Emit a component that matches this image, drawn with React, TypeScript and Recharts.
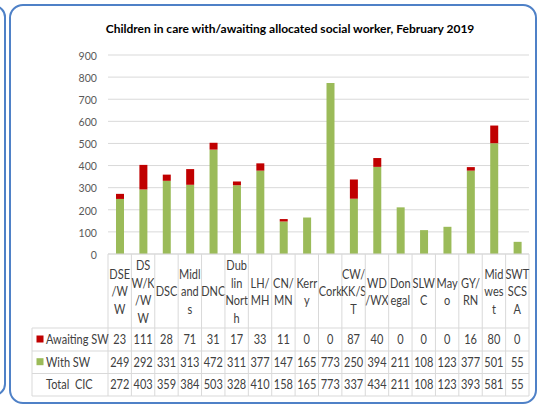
import { BarChart, Bar, XAxis, YAxis, CartesianGrid } from "recharts";

const categories = [
  "DSE/WW", "DSW/K/WW", "DSC", "Midlands", "DNC", "Dublin North", "LH/MH", "CN/MN", "Kerry",
  "Cork", "CW/KK/ST", "WD/WX", "Donegal", "SLWC", "Mayo", "GY/RN", "Midwest", "SWT SCSA",
];

// wrapped the way the table header shows them
const headerLines = [
  ["DSE", "/W", "W"],
  ["DS", "W/K", "/W", "W"],
  ["DSC"],
  ["Midl", "and", "s"],
  ["DNC"],
  ["Dub", "lin", "Nort", "h"],
  ["LH/", "MH"],
  ["CN/", "MN"],
  ["Kerr", "y"],
  ["Cork"],
  ["CW/", "KK/S", "T"],
  ["WD", "/WX"],
  ["Don", "egal"],
  ["SLW", "C"],
  ["May", "o"],
  ["GY/", "RN"],
  ["Mid", "wes", "t"],
  ["SWT", "SCS", "A"],
];

const awaitingSW = [23, 111, 28, 71, 31, 17, 33, 11, 0, 0, 87, 40, 0, 0, 0, 16, 80, 0];
const withSW = [249, 292, 331, 313, 472, 311, 377, 147, 165, 773, 250, 394, 211, 108, 123, 377, 501, 55];
const totalCIC = [272, 403, 359, 384, 503, 328, 410, 158, 165, 773, 337, 434, 211, 108, 123, 393, 581, 55];

const yTicks = [0, 100, 200, 300, 400, 500, 600, 700, 800, 900];

const data = categories.map((name, i) => ({
  name,
  awaiting: awaitingSW[i],
  withSw: withSW[i],
}));

const GREEN = "#9bbb59";
const RED = "#c00000";
const GRID = "#d9d9d9";
const TXT = "#404040";
const BLUE = "#4f81c7";
const FS = 12.5;
const SX = 0.88; // squeeze Lato toward Calibri's width

// row bottoms, measured from the axis line
const rowEdges = [74, 97, 119.5, 142];

function Txt({ x, y, anchor = "middle", size = FS, fill = TXT, children }: any) {
  return (
    <text
      transform={`translate(${x},${y}) scale(${SX},1)`}
      textAnchor={anchor}
      dominantBaseline="central"
      fontSize={size}
      fill={fill}
      style={{ whiteSpace: "pre" }}
    >
      {children}
    </text>
  );
}

function YTick(props: any) {
  const { x, y, payload } = props;
  return (
    <Txt x={x} y={y} anchor="end" size={12} fill="#595959">
      {payload.value}
    </Txt>
  );
}

function TableTick(props: any) {
  const { x, y, index, width } = props;
  const band = width / categories.length;
  const left = x - band / 2;
  const right = x + band / 2;
  const lines = headerLines[index];
  const lh = 17.5;
  const hc = y + 37.5;
  const rowMid = [85.5, 108.2, 130.7];
  const vals = [awaitingSW[index], withSW[index], totalCIC[index]];
  const legendLeft = left - 76;

  return (
    <g>
      <line x1={left} y1={y} x2={left} y2={y + 142} stroke={GRID} />
      {index === categories.length - 1 && (
        <line x1={right} y1={y} x2={right} y2={y + 142} stroke={GRID} />
      )}
      {rowEdges.map((r) => (
        <line key={r} x1={left} y1={y + r} x2={right} y2={y + r} stroke={GRID} />
      ))}
      {lines.map((t, i) => (
        <Txt key={i} x={x} y={hc + (i - (lines.length - 1) / 2) * lh}>
          {t}
        </Txt>
      ))}
      {vals.map((v, i) => (
        <Txt key={i} x={x} y={y + rowMid[i]}>
          {v}
        </Txt>
      ))}
      {index === 0 && (
        <g>
          <line x1={legendLeft} y1={y + 74} x2={legendLeft} y2={y + 142} stroke={GRID} />
          {rowEdges.map((r) => (
            <line key={r} x1={legendLeft} y1={y + r} x2={left} y2={y + r} stroke={GRID} />
          ))}
          <rect x={legendLeft + 4.5} y={y + rowMid[0] - 4} width={7} height={7} fill={RED} />
          <rect x={legendLeft + 4.5} y={y + rowMid[1] - 4} width={7} height={7} fill={GREEN} />
          <Txt x={legendLeft + 14} y={y + rowMid[0]} anchor="start">
            Awaiting SW
          </Txt>
          <Txt x={legendLeft + 14} y={y + rowMid[1]} anchor="start">
            With SW
          </Txt>
          <Txt x={legendLeft + 14} y={y + rowMid[2]} anchor="start">
            {"Total  CIC"}
          </Txt>
        </g>
      )}
    </g>
  );
}

export default function App() {
  return (
    <div
      style={{
        position: "absolute",
        left: 0,
        top: 0,
        width: 539,
        height: 410,
        background: "#fff",
        overflow: "hidden",
        fontFamily: "Lato, 'Liberation Sans', sans-serif",
      }}
    >
      {/* edge of the neighbouring panel */}
      <div
        style={{
          position: "absolute",
          left: -120,
          top: 5,
          width: 122,
          height: 387,
          border: `2px solid ${BLUE}`,
          borderRadius: 12,
        }}
      />
      {/* main panel */}
      <div
        style={{
          position: "absolute",
          left: 9,
          top: 4,
          width: 524,
          height: 396,
          border: `2px solid ${BLUE}`,
          borderRadius: 14,
        }}
      />
      <div
        style={{
          position: "absolute",
          left: 40,
          width: 500,
          top: 21,
          textAlign: "center",
          fontWeight: "bold",
          fontSize: 12,
          color: "#000",
        }}
      >
        Children in care with/awaiting allocated social worker, February 2019
      </div>
      <div style={{ position: "absolute", left: 0, top: 0 }}>
        <BarChart
          width={539}
          height={410}
          data={data}
          margin={{ top: 55, right: 10, bottom: 14, left: 48 }}
          barSize={8}
        >
          <CartesianGrid vertical={false} stroke={GRID} />
          <YAxis
            width={60}
            domain={[0, 900]}
            ticks={yTicks}
            interval={0}
            axisLine={false}
            tickLine={false}
            tickMargin={5}
            tick={<YTick />}
          />
          <XAxis
            dataKey="name"
            height={142}
            interval={0}
            tickSize={0}
            tickMargin={0}
            tickLine={false}
            axisLine={{ stroke: GRID }}
            tick={<TableTick />}
          />
          <Bar dataKey="withSw" stackId="a" fill={GREEN} isAnimationActive={false} />
          <Bar dataKey="awaiting" stackId="a" fill={RED} isAnimationActive={false} />
        </BarChart>
      </div>
    </div>
  );
}
